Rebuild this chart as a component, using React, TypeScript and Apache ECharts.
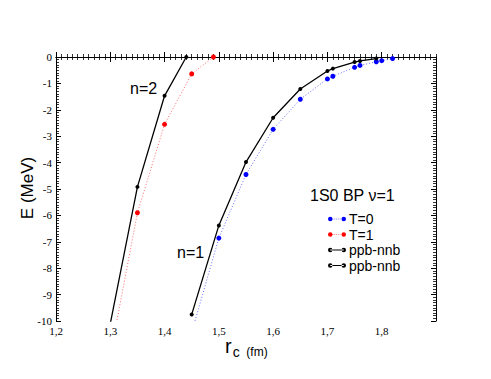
import React, { useEffect, useRef } from "react";
import * as echarts from "echarts";

const xT1n2 = [1.30, 1.35, 1.40, 1.45, 1.49];
const yT1n2 = [-11.3, -5.9, -2.55, -0.64, 0.0];

const xPPn2 = [1.30, 1.35, 1.40, 1.44];
const yPPn2 = [-10.1, -4.92, -1.47, 0.0];

const xT0n1 = [1.45, 1.50, 1.55, 1.60, 1.65, 1.70, 1.71, 1.75, 1.76, 1.79, 1.80, 1.82];
const yT0n1 = [-10.43, -6.86, -4.45, -2.74, -1.60, -0.83, -0.73, -0.39, -0.32, -0.18, -0.14, -0.06];

const xPPn1 = [1.45, 1.50, 1.55, 1.60, 1.65, 1.70, 1.71, 1.75, 1.76, 1.79];
const yPPn1 = [-9.75, -6.38, -3.98, -2.30, -1.21, -0.53, -0.44, -0.19, -0.15, -0.06];

const legendNames = ["T=0", "T=1", "ppb-nnb", "ppb-nnb "];

const zip = (xs: number[], ys: number[]) => xs.map((x, i) => [x, ys[i]]);

const solidIcon =
  "path://M0,3a2.5,2.5 0 1,0 5,0a2.5,2.5 0 1,0 -5,0ZM15,3a2.5,2.5 0 1,0 5,0a2.5,2.5 0 1,0 -5,0ZM2.5,2.4L17.5,2.4L17.5,3.6L2.5,3.6Z";
const dotIcon =
  "path://M0,3a2.5,2.5 0 1,0 5,0a2.5,2.5 0 1,0 -5,0ZM15,3a2.5,2.5 0 1,0 5,0a2.5,2.5 0 1,0 -5,0ZM5,2.6h1v0.8h-1ZM7,2.6h1v0.8h-1ZM9,2.6h1v0.8h-1ZM11,2.6h1v0.8h-1ZM13,2.6h1v0.8h-1Z";

const SERIF = "'Liberation Serif', 'Times New Roman', serif";

export default function App() {
  const ref = useRef<HTMLDivElement>(null);
  useEffect(() => {
    if (!ref.current) return;
    const chart = echarts.init(ref.current, undefined, { renderer: "svg" });
    const major = {
      axisLine: { show: true, lineStyle: { color: "#000", width: 1 } },
      axisTick: { show: true, inside: true, length: 5, lineStyle: { color: "#000" } },
      splitLine: { show: false },
    };
    const minor = {
      axisLine: { show: false },
      axisTick: { show: true, inside: true, length: 3, lineStyle: { color: "#000", width: 0.8 } },
      axisLabel: { show: false },
      splitLine: { show: false },
    };
    const fmtX = (v: number) => v.toFixed(1).replace(".", ",");
    const xBase = { type: "value", min: 1.2, max: 1.9 };
    const yBase = { type: "value", min: -10, max: 0 };
    chart.setOption({
      animation: false,
      backgroundColor: "#fff",
      grid: { left: 56, top: 57, right: 55, bottom: 58 },
      xAxis: [
        {
          ...xBase,
          interval: 0.1,
          position: "bottom",
          ...major,
          axisLabel: {
            formatter: fmtX,
            showMaxLabel: false,
            color: "#000",
            fontFamily: SERIF,
            fontSize: 11,
            margin: 4,
          },
        },
        { ...xBase, interval: 0.1, position: "top", ...major, axisLabel: { show: false } },
        { ...xBase, interval: 0.01, position: "bottom", ...minor },
        { ...xBase, interval: 0.01, position: "top", ...minor },
      ],
      yAxis: [
        {
          ...yBase,
          interval: 1,
          position: "left",
          ...major,
          axisLabel: {
            color: "#000",
            fontFamily: SERIF,
            fontSize: 11,
            margin: 4,
          },
        },
        { ...yBase, interval: 1, position: "right", ...major, axisLabel: { show: false } },
        { ...yBase, interval: 0.1, position: "left", ...minor },
        { ...yBase, interval: 0.1, position: "right", ...minor },
      ],
      legend: {
        orient: "vertical",
        left: 323,
        top: 207,
        itemWidth: 18,
        itemHeight: 6,
        itemGap: 1.5,
        data: [
          { name: legendNames[0], icon: dotIcon },
          { name: legendNames[1], icon: dotIcon },
          { name: legendNames[2], icon: solidIcon },
          { name: legendNames[3], icon: solidIcon },
        ],
        textStyle: {
          fontFamily: "Liberation Sans",
          fontSize: 14,
          lineHeight: 14,
          color: "#000",
          padding: [0, 0, 0, -2],
        },
      },
      graphic: [
        {
          type: "text",
          left: 310,
          top: 187,
          style: { text: "1S0 BP ν=1", font: "16px 'Liberation Sans'", fill: "#000" },
        },
        {
          type: "text",
          left: 130,
          top: 80,
          style: { text: "n=2", font: "16px 'Liberation Sans'", fill: "#000" },
        },
        {
          type: "text",
          left: 177,
          top: 244,
          style: { text: "n=1", font: "16px 'Liberation Sans'", fill: "#000" },
        },
        {
          type: "text",
          x: 27,
          y: 188,
          rotation: Math.PI / 2,
          style: {
            text: "E (MeV)",
            font: "17px 'Liberation Sans'",
            fill: "#000",
            align: "center",
            verticalAlign: "middle",
          },
        },
        {
          type: "text",
          left: 225,
          top: 336,
          style: {
            text: "{r|r}{c|c}{u|  (fm)}",
            rich: {
              r: { font: "20px 'Liberation Sans'", fill: "#000", verticalAlign: "top" },
              c: { font: "14px 'Liberation Sans'", fill: "#000", padding: [9, 0, 0, 1] },
              u: { font: "12px 'Liberation Sans'", fill: "#000", padding: [8, 0, 0, 0] },
            },
          },
        },
      ],
      series: [
        {
          name: legendNames[0],
          type: "line",
          data: zip(xT0n1, yT0n1),
          symbol: "circle",
          symbolSize: 5,
          itemStyle: { color: "#0000ff" },
          lineStyle: { color: "#6a6aff", width: 1, type: [1, 2] },
          clip: true,
          z: 2,
        },
        {
          name: legendNames[1],
          type: "line",
          data: zip(xT1n2, yT1n2),
          symbol: "circle",
          symbolSize: 5,
          itemStyle: { color: "#ff0000" },
          lineStyle: { color: "#ff6a6a", width: 1, type: [1, 2] },
          clip: true,
          z: 2,
        },
        {
          name: legendNames[2],
          type: "line",
          data: zip(xPPn1, yPPn1),
          symbol: "circle",
          symbolSize: 4,
          itemStyle: { color: "#000" },
          lineStyle: { color: "#000", width: 1.3 },
          clip: true,
          z: 3,
        },
        {
          name: legendNames[3],
          type: "line",
          data: zip(xPPn2, yPPn2),
          symbol: "circle",
          symbolSize: 4,
          itemStyle: { color: "#000" },
          lineStyle: { color: "#000", width: 1.3 },
          clip: true,
          z: 3,
        },
      ],
    });
    return () => chart.dispose();
  }, []);
  return (
    <div
      ref={ref}
      style={{ position: "fixed", left: 0, top: 0, width: 491, height: 379, background: "#fff" }}
    />
  );
}
